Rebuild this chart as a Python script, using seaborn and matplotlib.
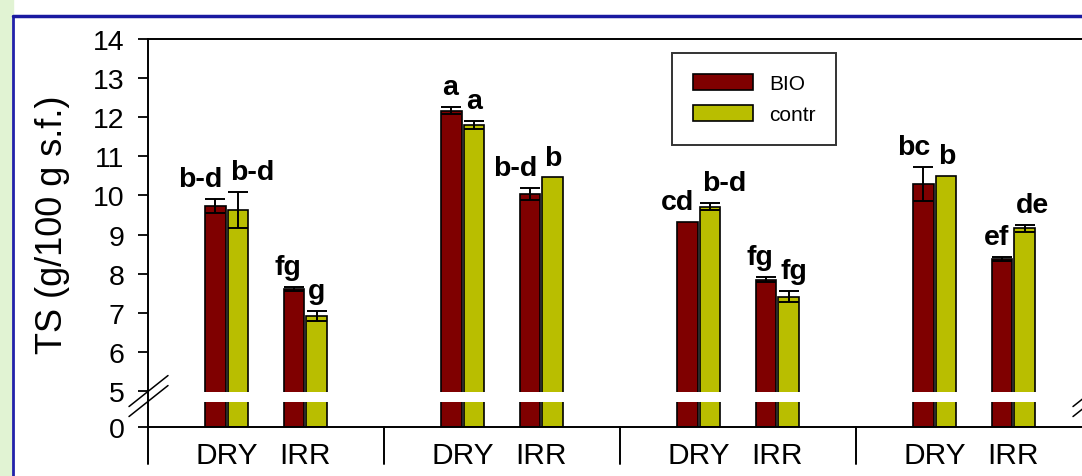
import numpy as np
import pandas as pd
import matplotlib
matplotlib.use("Agg")
import matplotlib.pyplot as plt
import matplotlib.transforms as mtransforms
from matplotlib.lines import Line2D
from matplotlib.patches import Rectangle
import seaborn as sns

# === Data ===
groups = ["G1", "G2", "G3", "G4"]
water = ["DRY", "IRR"]
treatments = ["BIO", "contr"]

# values in group order: DRY, IRR for each group
bio_ts = [9.73, 7.61, 12.17, 10.04, 9.33, 7.85, 10.29, 8.38]
contr_ts = [9.64, 6.91, 11.81, 10.46, 9.71, 7.41, 10.49, 9.16]
bio_err = [0.17, 0.06, 0.08, 0.15, 0.0, 0.06, 0.43, 0.05]
contr_err = [0.46, 0.13, 0.10, 0.0, 0.09, 0.14, 0.0, 0.09]
bio_letters = ["b-d", "fg", "a", "b-d", "cd", "fg", "bc", "ef"]
contr_letters = ["b-d", "g", "a", "b", "b-d", "fg", "b", "de"]

colors = {"BIO": "#7f0000", "contr": "#b9be00"}

# === Build long table ===
rows = []
for i in range(len(bio_ts)):
    g, w = divmod(i, 2)
    pos = 3 * g + w  # DRY/IRR close together, gap between groups
    rows.append(dict(pos=pos, water=water[w], trt="BIO", ts=bio_ts[i],
                     err=bio_err[i], lab=bio_letters[i]))
    rows.append(dict(pos=pos, water=water[w], trt="contr", ts=contr_ts[i],
                     err=contr_err[i], lab=contr_letters[i]))
df = pd.DataFrame(rows)

sns.set_style("white")
plt.rcParams["font.family"] = ["Liberation Sans", "DejaVu Sans"]
plt.rcParams.update({"text.color": "black", "axes.labelcolor": "black",
                     "xtick.color": "black", "ytick.color": "black"})

fig = plt.figure(figsize=(10.82, 4.77), dpi=100)

# slide decoration: green strip + blue frame
fig.patches.append(Rectangle((0, 0), 13 / 1082, 1, transform=fig.transFigure,
                             color="#e1f3d3", zorder=0))
fig.add_artist(Line2D([13 / 1082, 13 / 1082], [0, 1 - 17 / 477],
                      transform=fig.transFigure, color="#2222aa", lw=2))
fig.add_artist(Line2D([13 / 1082, 1], [1 - 17 / 477, 1 - 17 / 477],
                      transform=fig.transFigure, color="#1a1aa0", lw=2.5))

ax = fig.add_axes([148 / 1082, 49 / 477, 944 / 1082, 388 / 477])

width = 0.575
sns.barplot(data=df, x="pos", y="ts", hue="trt", hue_order=treatments,
            palette=colors, saturation=1, native_scale=True, width=width,
            gap=0.1, errorbar=None, edgecolor="black", linewidth=1.2, ax=ax,
            zorder=1)

# broken y axis: compress 0..5 into a short segment
k = 36 / 39.11 / 5


def fwd(y):
    y = np.asarray(y, dtype=float)
    return np.where(y >= 5, y, 5 - (5 - y) * k)


def inv(t):
    t = np.asarray(t, dtype=float)
    return np.where(t >= 5, t, 5 - (5 - t) / k)


ax.set_yscale("function", functions=(fwd, inv))
ax.set_ylim(0, 14)
ax.set_xlim(-1, 11)
yt = [0, 5, 6, 7, 8, 9, 10, 11, 12, 13, 14]
ax.set_yticks(yt)
ax.set_yticklabels([str(v) for v in yt])
ax.axhspan(3.5, 4.92, color="white", zorder=2, lw=0)

# error bars + letters (BIO letters lean left, contr letters lean right)
for j, trt in enumerate(treatments):
    sub = df[df.trt == trt].sort_values("pos")
    bars = sorted(ax.containers[j], key=lambda b: b.get_x())
    xs = np.array([b.get_x() + b.get_width() / 2 for b in bars])
    m = sub.err.values > 0
    ax.errorbar(xs[m], sub.ts.values[m], yerr=sub.err.values[m], fmt="none",
                ecolor="black", elinewidth=1.4, capsize=7.5, capthick=1.4,
                zorder=3)
    ha, dx = ("right", 5) if trt == "BIO" else ("left", -6)
    for x, y, e, lab in zip(xs, sub.ts.values, sub.err.values, sub.lab.values):
        ax.annotate(lab, (x, y + e), xytext=(dx, 5), textcoords="offset points",
                    ha=ha, va="bottom", fontsize=20.5, fontweight="bold",
                    color="black")

# axes styling
for s in ["left", "bottom", "top"]:
    ax.spines[s].set_color("black")
    ax.spines[s].set_linewidth(1.4)
ax.spines["right"].set_visible(False)
ax.tick_params(axis="y", direction="out", length=7, width=1.3, pad=10,
               labelsize=20.5, left=True, colors="black")
ticks = sorted(df.pos.unique())
ax.set_xticks(ticks)
ax.set_xticklabels([water[int(p) % 3] for p in ticks])
ax.tick_params(axis="x", length=0, pad=10, labelsize=21.5, colors="black")
ax.set_xlabel("")
ax.set_ylabel("TS (g/100 g s.f.)", fontsize=26, color="black")
ax.yaxis.set_label_coords(-0.083, 0.524)

# group separators below x axis
xt = ax.get_xaxis_transform()
for g in range(len(groups) + 1):
    xsep = 3 * g - 1
    ax.plot([xsep, xsep], [0, -0.095], transform=xt, color="black",
            lw=1.4, clip_on=False)

leg = ax.legend(loc="upper left", bbox_to_anchor=(0.555, 0.964),
                borderaxespad=0, fontsize=15, frameon=True, fancybox=False,
                edgecolor="black", borderpad=1.0, handlelength=2.9,
                handleheight=0.85, handletextpad=0.75, labelspacing=0.55)
leg.get_frame().set_linewidth(1.4)
for t in leg.get_texts():
    t.set_color("black")

# axis break marks
fig.canvas.draw()
for xa in [0, 1]:
    cx = ax.transAxes.transform((xa, 0))[0]
    cy = ax.get_yaxis_transform().transform((0, 4.3))[1]
    for dy in (0, -10):
        fig.add_artist(Line2D([cx - 19, cx + 20], [cy - 10.5 + dy, cy + 20.5 + dy],
                              transform=mtransforms.IdentityTransform(),
                              color="black", lw=1.1))

fig.savefig("out.png", dpi=100)
